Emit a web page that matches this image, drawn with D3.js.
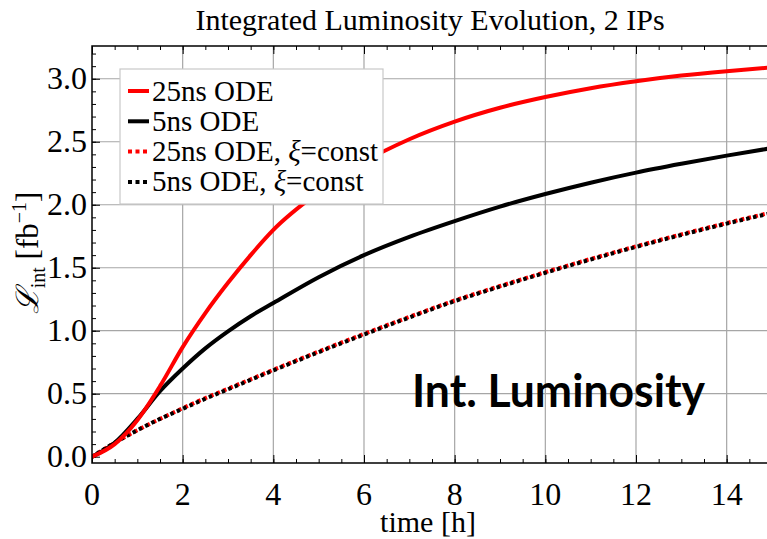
<!DOCTYPE html>
<html>
<head>
<meta charset="utf-8">
<script src="https://cdn.jsdelivr.net/npm/d3@7"></script>
<style>
  body { margin: 0; background: #fff; }
  svg { display: block; }
</style>
</head>
<body>
<svg id="canvas" width="767" height="539"></svg>
<script>
// values
let times = [0, 0.5, 1, 1.5, 2, 2.5, 3, 3.5, 4, 5, 6, 7, 8, 9, 10, 11, 12, 13, 14, 15]
let lumi25 = [0, 0.10, 0.29, 0.56, 0.87, 1.14, 1.38, 1.60, 1.80, 2.10, 2.34, 2.52, 2.66, 2.77, 2.855, 2.925, 2.98, 3.025, 3.06, 3.09]
let lumi5 = [0, 0.11, 0.30, 0.52, 0.70, 0.86, 0.995, 1.115, 1.22, 1.425, 1.60, 1.745, 1.87, 1.985, 2.085, 2.175, 2.255, 2.325, 2.39, 2.45]
let lumi25const = [0, 0.11, 0.21, 0.30, 0.385, 0.465, 0.54, 0.615, 0.69, 0.835, 0.975, 1.11, 1.24, 1.355, 1.465, 1.57, 1.67, 1.765, 1.855, 1.94]
let lumi5const = [0, 0.11, 0.21, 0.30, 0.38, 0.46, 0.535, 0.61, 0.685, 0.83, 0.97, 1.105, 1.235, 1.35, 1.46, 1.565, 1.665, 1.76, 1.85, 1.935]

let xTicks = [0, 2, 4, 6, 8, 10, 12, 14]
let yTicks = [0, 0.5, 1.0, 1.5, 2.0, 2.5, 3.0]
let legendLabels = ['25ns ODE', '5ns ODE', '25ns ODE, ', '5ns ODE, ']

let canvas = d3.select('#canvas')
let serif = '"Liberation Serif", "Times New Roman", serif'

let plotLeft = 92, plotTop = 46, plotBottom = 463, plotRight = 772
let xScale = d3.scaleLinear().domain([0, 15]).range([plotLeft, plotRight])
let yScale = d3.scaleLinear().domain([-0.05, 3.26]).range([plotBottom, plotTop])

// grid
canvas.append('g')
    .selectAll('line')
    .data(xTicks.filter(d => d > 0))
    .enter()
    .append('line')
    .attr('x1', d => xScale(d)).attr('x2', d => xScale(d))
    .attr('y1', plotTop).attr('y2', plotBottom)
    .attr('stroke', '#a6a6a6').attr('stroke-width', 1.2)

canvas.append('g')
    .selectAll('line')
    .data(yTicks.filter(d => d > 0))
    .enter()
    .append('line')
    .attr('x1', plotLeft).attr('x2', plotRight)
    .attr('y1', d => yScale(d)).attr('y2', d => yScale(d))
    .attr('stroke', '#a6a6a6').attr('stroke-width', 1.2)

// frame ticks (inward)
let xMinorVals = d3.range(0, 15.01, 0.5)
let yMinorVals = d3.range(0, 3.25, 0.1)
let axes = [
    [d3.axisBottom(xScale).tickValues(xTicks).tickSize(-8), `translate(0,${plotBottom})`],
    [d3.axisBottom(xScale).tickValues(xMinorVals).tickSize(-4), `translate(0,${plotBottom})`],
    [d3.axisTop(xScale).tickValues(xTicks).tickSize(-8), `translate(0,${plotTop})`],
    [d3.axisTop(xScale).tickValues(xMinorVals).tickSize(-4), `translate(0,${plotTop})`],
    [d3.axisLeft(yScale).tickValues(yTicks).tickSize(-8), `translate(${plotLeft},0)`],
    [d3.axisLeft(yScale).tickValues(yMinorVals).tickSize(-4), `translate(${plotLeft},0)`]
]
axes.forEach(([ax, tr]) => {
    let g = canvas.append('g').attr('transform', tr).call(ax.tickFormat(''))
    g.select('.domain').remove()
    g.selectAll('line').attr('stroke', '#000').attr('stroke-width', 1)
})

// curves
let clip = canvas.append('clipPath').attr('id', 'plotclip')
clip.append('rect').attr('x', plotLeft).attr('y', plotTop).attr('width', plotRight - plotLeft).attr('height', plotBottom - plotTop)

let line = d3.line()
    .x(d => xScale(d[0]))
    .y(d => yScale(d[1]))
    .curve(d3.curveMonotoneX)

let series = [
    { values: lumi25const, color: '#ff0000', dash: '3.5,3.5', offset: 0 },
    { values: lumi5const, color: '#000000', dash: '3.5,3.5', offset: 1.8 },
    { values: lumi5, color: '#000000', dash: null, offset: 0 },
    { values: lumi25, color: '#ff0000', dash: null, offset: 0 }
]

let plot = canvas.append('g').attr('clip-path', 'url(#plotclip)')
series.forEach(s => {
    plot.append('path')
        .datum(times.map((t, i) => [t, s.values[i]]))
        .attr('d', line)
        .attr('fill', 'none')
        .attr('stroke', s.color)
        .attr('stroke-width', 4)
        .attr('stroke-dasharray', s.dash)
        .attr('stroke-dashoffset', s.offset)
})

// frame
canvas.append('path')
    .attr('d', `M${plotRight},${plotTop}H${plotLeft}V${plotBottom}H${plotRight}`)
    .attr('fill', 'none').attr('stroke', '#000').attr('stroke-width', 1.5)

// tick labels
canvas.append('g')
    .selectAll('text')
    .data(xTicks)
    .enter()
    .append('text')
    .attr('x', d => xScale(d))
    .attr('y', 505)
    .attr('text-anchor', 'middle')
    .style('font-family', serif).style('font-size', '32px')
    .text(d => d)

canvas.append('g')
    .selectAll('text')
    .data(yTicks)
    .enter()
    .append('text')
    .attr('x', 87)
    .attr('y', d => yScale(d) + 10.5)
    .attr('text-anchor', 'end')
    .style('font-family', serif).style('font-size', '32px')
    .text(d => d.toFixed(1))

// axis titles
canvas.append('text')
    .attr('x', 428).attr('y', 532)
    .attr('text-anchor', 'middle')
    .style('font-family', serif).style('font-size', '30px')
    .text('time [h]')

let yl = canvas.append('text')
    .attr('transform', 'translate(38,253) rotate(-90)')
    .attr('text-anchor', 'middle')
    .style('font-family', serif).style('font-size', '31px')
yl.append('tspan').style('font-family', '"DejaVu Serif", serif').style('font-style', 'italic').text('ℒ')
yl.append('tspan').attr('dy', 7).style('font-size', '20px').text('int')
yl.append('tspan').attr('dy', -7).text(' [fb')
yl.append('tspan').attr('dy', -12).style('font-size', '20px').text('−1')
yl.append('tspan').attr('dy', 12).text(']')

canvas.append('text')
    .attr('x', 430).attr('y', 30)
    .attr('text-anchor', 'middle')
    .style('font-family', serif).style('font-size', '30px')
    .text('Integrated Luminosity Evolution, 2 IPs')

// legend
let legend = canvas.append('g')
legend.append('rect')
    .attr('x', 120).attr('y', 69).attr('width', 263).attr('height', 135)
    .attr('fill', '#fff').attr('stroke', '#c8c8c8').attr('stroke-width', 1.2)

let legendSeries = [series[3], series[2], series[0], series[1]]
legendLabels.forEach((label, i) => {
    let cy = 91 + i * 30.3
    let s = legendSeries[i]
    legend.append('line')
        .attr('x1', 128).attr('x2', 149)
        .attr('y1', cy).attr('y2', cy)
        .attr('stroke', s.color).attr('stroke-width', 4)
        .attr('stroke-dasharray', s.dash ? '4,3.5' : null)
    let t = legend.append('text')
        .attr('x', 152).attr('y', cy + 9.5)
        .style('font-family', serif).style('font-size', '29px')
        .text(label)
    if (i >= 2) {
        t.append('tspan').style('font-style', 'italic').text('ξ')
        t.append('tspan').text('=const')
    }
})

// annotation
canvas.append('text')
    .attr('x', 412).attr('y', 407)
    .attr('textLength', 293).attr('lengthAdjust', 'spacingAndGlyphs')
    .style('font-family', 'Lato, "Open Sans", sans-serif')
    .style('font-weight', 700).style('font-size', '45px')
    .text('Int. Luminosity')
</script>
</body>
</html>
